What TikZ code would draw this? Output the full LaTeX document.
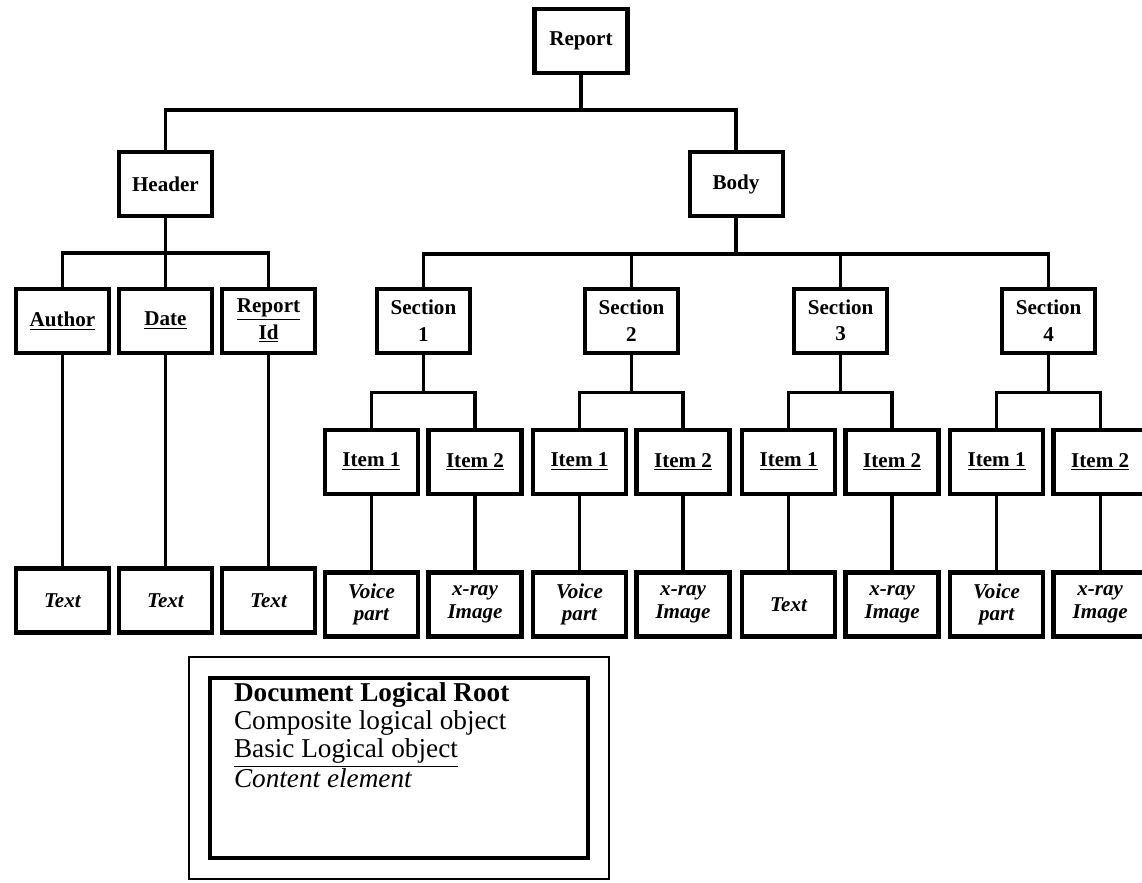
\documentclass[tikz,border=0pt]{standalone}
\usepackage{fontspec}
\setmainfont{Liberation Serif}
\usetikzlibrary{shapes,calc,fit,positioning}

\begin{document}
\begin{tikzpicture}[%
      node distance=1.5cm and 0.12cm, % vertical gap and gap between item boxes
      line width=1.9pt,               % connecting lines
      font=\fontsize{12}{15}\selectfont\bfseries
      ]
  \tikzset{
   box/.style={draw,align=center,rectangle,line width=2.3pt,minimum width=1.86cm,minimum height=1.28cm,inner sep=1pt},
   basic/.style={box,line width=2.6pt},
   content/.style={box,line width=2.6pt,font=\fontsize{12}{13}\selectfont\bfseries\itshape},
   legend/.style={draw,rectangle,line width=2.3pt,inner xsep=0.48cm,inner ysep=0.1cm,font=\fontsize{15.5}{15.9}\selectfont}}

 \useasboundingbox (-11.62,0.82) rectangle (11.22,-16.82);

 \node [box] (report) {Report};
 \node [box,below left=1.5cm and 6.37cm of report] (header) {Header};
 \node [box,below right=1.5cm and 1.16cm of report] (body) {Body};

 % header part
 \node [basic,below=1.37cm of header] (date) {\underline{Date}};
 \node [basic,left=0.11cm of date] (author) {\underline{Author}};
 \node [basic,right=0.11cm of date] (repid) {\underline{Report}\\\underline{Id}};

 \node [content,below=4.22cm of author] (txta) {Text};
 \node [content,below=4.22cm of date] (txtd) {Text};
 \node [content,below=4.22cm of repid] (txti) {Text};

 % body part
 \node [box,below left=1.37cm and 0.15cm of body] (sec2) {Section\\2};
 \node [box,below right=1.37cm and 0.15cm of body] (sec3) {Section\\3};
 \node [box,left=2.22cm of sec2] (sec1) {Section\\1};
 \node [box,right=2.22cm of sec3] (sec4) {Section\\4};

 \node [basic,below=1.46cm of sec1,xshift=-1.04cm] (it11) {\underline{Item 1}};
 \node [basic,right=of it11] (it12) {\underline{Item 2}};
 \node [basic,below=1.46cm of sec2,xshift=-1.04cm] (it21) {\underline{Item 1}};
 \node [basic,right=of it21] (it22) {\underline{Item 2}};
 \node [basic,below=1.46cm of sec3,xshift=-1.04cm] (it31) {\underline{Item 1}};
 \node [basic,right=of it31] (it32) {\underline{Item 2}};
 \node [basic,below=1.46cm of sec4,xshift=-1.04cm] (it41) {\underline{Item 1}};
 \node [basic,right=of it41] (it42) {\underline{Item 2}};

 \node [content,below=1.48cm of it11] (c11) {Voice\\part};
 \node [content,below=1.48cm of it12] (c12) {x-ray\\Image};
 \node [content,below=1.48cm of it21] (c21) {Voice\\part};
 \node [content,below=1.48cm of it22] (c22) {x-ray\\Image};
 \node [content,below=1.48cm of it31] (c31) {Text};
 \node [content,below=1.48cm of it32] (c32) {x-ray\\Image};
 \node [content,below=1.48cm of it41] (c41) {Voice\\part};
 \node [content,below=1.48cm of it42] (c42) {x-ray\\Image};

 % legend
 \node [legend,anchor=north west] (legend) at (-7.46,-12.70) {%
  \begin{minipage}[t][3.4cm][t]{6.6cm}
   \textbf{Document Logical Root}\\
   Composite logical object\\
   \underline{Basic Logical object}\\
   \textit{Content element}
  \end{minipage}};
 \node [draw,line width=1.4pt,inner sep=0.38cm,fit=(legend)] (frame) {};

 \draw (report.south) -- ++(0,-0.7) -| (header);
 \draw (report.south) -- ++(0,-0.7) -| (body);

 \draw (header.south) -- ++(0,-0.7) -| (author);
 \draw (header) -- (date);
 \draw (header.south) -- ++(0,-0.7) -| (repid);
 \draw (author) -- (txta);
 \draw (date) -- (txtd);
 \draw (repid) -- (txti);

 \draw (body.south) -- ++(0,-0.72) -| (sec1);
 \draw (body.south) -- ++(0,-0.72) -| (sec2);
 \draw (body.south) -- ++(0,-0.72) -| (sec3);
 \draw (body.south) -- ++(0,-0.72) -| (sec4);

 \draw (sec1.south) -- ++(0,-0.76) -| (it11);
 \draw (sec1.south) -- ++(0,-0.76) -| (it12);
 \draw (sec2.south) -- ++(0,-0.76) -| (it21);
 \draw (sec2.south) -- ++(0,-0.76) -| (it22);
 \draw (sec3.south) -- ++(0,-0.76) -| (it31);
 \draw (sec3.south) -- ++(0,-0.76) -| (it32);
 \draw (sec4.south) -- ++(0,-0.76) -| (it41);
 \draw (sec4.south) -- ++(0,-0.76) -| (it42);

 \draw (it11) -- (c11);
 \draw (it12) -- (c12);
 \draw (it21) -- (c21);
 \draw (it22) -- (c22);
 \draw (it31) -- (c31);
 \draw (it32) -- (c32);
 \draw (it41) -- (c41);
 \draw (it42) -- (c42);
\end{tikzpicture}
\end{document}
